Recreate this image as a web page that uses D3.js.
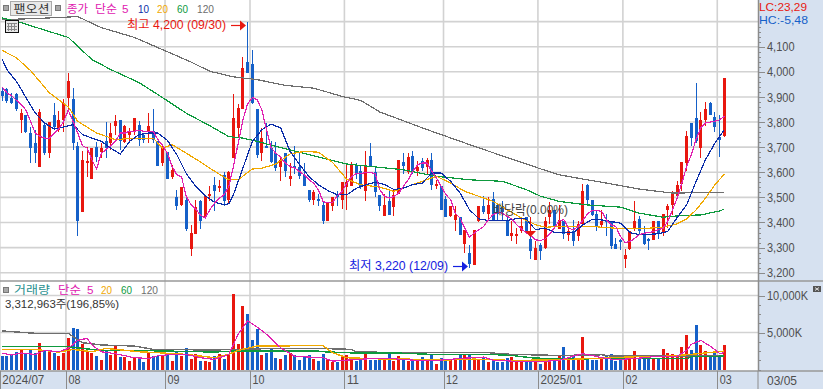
<!doctype html>
<html lang="ko">
<head>
<meta charset="UTF-8">
<title>팬오션</title>
<style>
  html, body { margin: 0; padding: 0; background: #fff; }
  svg { display: block; }
  text { font-family: "Liberation Sans", "Noto Sans CJK KR", sans-serif; }
  .grid line { stroke: #d2d2d2; stroke-width: 1.6px; }
  .axis path { display: none; }
  .axis line { stroke: #8c8c8c; shape-rendering: crispEdges; }
  .axis text { font-size: 13px; fill: #4e4e4e; }
  .ma { fill: none; shape-rendering: crispEdges; }
  .wick, .body, .vol { shape-rendering: crispEdges; }
</style>
</head>
<body>
<script src="https://d3js.org/d3.v7.min.js"></script>
<script>
var opens = [3925,3930,3895,3910,3810,3830,3755,3715,3620,3790,3675,3830,3770,3810,3895,3890,3705,3440,3635,3575,3700,3680,3725,3715,3785,3810,3720,3750,3765,3790,3750,3760,3765,3725,3635,3680,3580,3500,3470,3490,3295,3355,3485,3420,3505,3550,3540,3590,3490,3655,3775,3850,4040,4030,3850,3675,3705,3695,3675,3620,3675,3575,3625,3620,3590,3530,3490,3495,3470,3405,3465,3510,3490,3540,3545,3630,3605,3525,3665,3600,3510,3425,3485,3460,3515,3640,3600,3665,3605,3645,3620,3650,3550,3545,3495,3425,3410,3420,3315,3280,3230,3405,3465,3435,3495,3470,3465,3405,3345,3345,3365,3420,3335,3250,3310,3300,3420,3450,3375,3405,3350,3365,3345,3395,3550,3490,3435,3390,3410,3405,3315,3330,3255,3295,3375,3415,3355,3335,3330,3405,3360,3450,3470,3505,3555,3635,3795,3815,3695,3810,3875,3820,3740,3745];
var closes = [3905,3885,3875,3850,3835,3760,3695,3675,3840,3675,3800,3780,3810,3875,3965,3715,3405,3650,3645,3695,3660,3695,3695,3755,3805,3725,3785,3760,3815,3730,3730,3785,3730,3625,3705,3575,3610,3465,3540,3375,3360,3460,3405,3505,3515,3525,3545,3485,3600,3815,3855,4015,3995,3875,3670,3735,3695,3640,3615,3650,3605,3585,3615,3585,3545,3490,3520,3485,3405,3480,3500,3500,3560,3560,3630,3595,3545,3630,3620,3520,3465,3470,3430,3510,3650,3625,3660,3605,3620,3615,3650,3550,3555,3450,3420,3465,3430,3350,3370,3235,3370,3465,3440,3470,3410,3435,3440,3345,3360,3355,3385,3365,3285,3300,3285,3405,3450,3385,3410,3355,3365,3325,3395,3525,3490,3430,3385,3405,3400,3305,3295,3325,3270,3365,3405,3365,3315,3325,3405,3355,3435,3465,3515,3550,3640,3745,3735,3725,3810,3850,3830,3780,3730,3975];
var highs = [3940,3935,3915,3915,3850,3830,3780,3770,3850,3795,3800,3875,3845,3890,3995,3935,3720,3685,3700,3695,3720,3715,3800,3795,3830,3810,3790,3775,3815,3805,3755,3835,3850,3725,3705,3680,3630,3530,3540,3505,3390,3490,3490,3505,3545,3580,3570,3600,3605,3910,3870,4060,4200,4085,3850,3775,3795,3725,3720,3665,3675,3635,3705,3675,3635,3530,3530,3515,3485,3480,3500,3525,3560,3635,3640,3635,3625,3685,3715,3625,3510,3515,3535,3535,3650,3675,3675,3685,3645,3655,3655,3675,3570,3545,3505,3465,3465,3420,3370,3310,3370,3465,3505,3500,3520,3470,3485,3425,3405,3380,3420,3420,3345,3325,3320,3420,3480,3450,3470,3405,3385,3410,3405,3555,3555,3490,3450,3450,3435,3405,3340,3335,3295,3365,3485,3425,3385,3340,3405,3405,3435,3475,3525,3565,3640,3765,3795,3955,3840,3880,3880,3840,3830,3975];
var lows = [3885,3875,3870,3845,3755,3755,3635,3635,3620,3670,3655,3770,3760,3760,3850,3690,3345,3440,3580,3575,3640,3655,3655,3690,3750,3690,3715,3720,3750,3705,3715,3715,3715,3625,3625,3575,3575,3450,3465,3365,3265,3355,3375,3415,3485,3445,3520,3465,3475,3655,3735,3850,3995,3870,3655,3645,3695,3635,3605,3565,3580,3545,3595,3575,3545,3480,3470,3465,3395,3405,3445,3465,3455,3450,3545,3575,3535,3485,3620,3500,3445,3425,3430,3425,3515,3595,3595,3595,3585,3605,3595,3530,3535,3450,3420,3420,3365,3350,3280,3220,3230,3400,3435,3410,3410,3410,3410,3345,3325,3315,3360,3360,3255,3250,3250,3295,3395,3375,3375,3335,3325,3305,3325,3395,3465,3425,3365,3380,3345,3295,3295,3290,3220,3290,3365,3350,3310,3290,3330,3335,3345,3380,3430,3505,3525,3605,3705,3715,3655,3785,3830,3760,3660,3740];
var volumes = [1770,1770,1900,2310,2630,2130,2810,2220,3530,2580,2580,2170,1810,2220,4210,5570,5440,3440,2450,2220,1770,1220,2490,1950,3170,1630,1630,1130,1490,1590,950,2170,1770,1770,1900,2130,1090,2400,1810,2850,1360,2040,1090,1090,950,1770,2040,1400,2040,10190,3400,8570,7480,3960,5440,1900,2270,2940,1590,1360,1900,2170,1900,1220,1720,1900,1360,1090,2040,1270,950,950,1720,1900,1270,1090,1220,2080,1310,1310,1590,1490,2080,1090,1770,1490,1090,1360,1220,1630,1220,1900,680,1490,1220,1220,1220,1900,1900,1900,1630,1220,1630,950,1360,950,950,1490,1630,1180,1220,1220,1220,950,810,1220,1220,1490,1770,2990,1220,1770,1220,4350,1360,1220,1220,1360,1900,2040,1090,1360,1360,1360,2450,1490,1490,1490,1490,1490,2720,2170,2040,1900,2990,4620,2580,5980,3260,2450,1770,2310,1770,3313];

// moving averages
var ma5 = [3940,3916,3905,3887,3869,3849,3803,3756,3743,3736,3736,3756,3772,3803,3847,3803,3756,3706,3696,3650,3613,3676,3690,3706,3723,3756,3756,3763,3763,3767,3763,3762,3763,3730,3706,3676,3623,3590,3581,3504,3471,3453,3430,3418,3451,3477,3497,3510,3543,3623,3716,3809,3873,3898,3889,3849,3769,3696,3676,3660,3636,3623,3616,3603,3590,3570,3556,3530,3483,3479,3479,3507,3523,3556,3583,3594,3594,3599,3599,3594,3531,3504,3497,3504,3517,3544,3570,3604,3630,3637,3637,3604,3577,3544,3511,3491,3437,3418,3378,3342,3358,3371,3384,3411,3431,3440,3437,3424,3414,3391,3374,3360,3347,3331,3328,3334,3354,3378,3407,3411,3377,3371,3384,3408,3434,3448,3448,3444,3411,3391,3384,3344,3320,3324,3337,3351,3357,3360,3364,3371,3377,3404,3450,3497,3557,3623,3670,3730,3776,3796,3800,3803,3809,3823];
var ma10Days = [0,1,3,5,7,9,11,13,15,17,19,21,23,25,27,29,31,33,35,37,39,41,43,45,47,48,49,51,53,55,57,59,61,63,65,67,69,71,73,75,77,79,81,83,85,87,89,91,93,95,97,99,101,103,105,107,109,111,113,115,117,119,121,123,125,127,129,131,133,135,137,139,141,143,145,147,149,151,153];
var ma10 = [4050,4009,3962,3899,3836,3796,3772,3780,3790,3750,3736,3723,3696,3673,3723,3750,3756,3756,3727,3670,3595,3544,3507,3480,3471,3475,3511,3617,3723,3769,3792,3776,3683,3630,3583,3550,3527,3510,3510,3536,3550,3560,3551,3531,3537,3551,3557,3597,3597,3564,3517,3451,3414,3408,3408,3408,3416,3414,3371,3378,3360,3360,3360,3390,3413,3410,3404,3397,3360,3351,3353,3355,3364,3420,3470,3563,3650,3716,3770];
var ma20Days = [0,3,6,10,14,16,20,24,28,32,34,36,39,42,45,48,50,53,55,58,61,64,67,70,73,76,80,83,86,89,92,95,98,101,104,107,110,113,115,118,120,125,130,135,140,143,145,147,149,151,153];
var ma20 = [4085,4056,4005,3916,3860,3803,3756,3730,3736,3736,3696,3710,3676,3641,3604,3570,3570,3613,3616,3633,3673,3683,3680,3639,3572,3550,3541,3524,3544,3564,3584,3557,3524,3504,3484,3451,3418,3391,3381,3384,3384,3384,3377,3375,3381,3395,3414,3450,3497,3550,3593];
var ma60Days = [0,4,9,14,19,23,29,34,39,44,48,51,54,58,63,68,73,77,85,92,99,106,111,114,118,124,131,135,140,144,148,152,153];
var ma60 = [4215,4196,4166,4137,4049,4009,3957,3897,3835,3785,3742,3736,3723,3703,3680,3656,3633,3625,3610,3584,3570,3564,3531,3505,3484,3470,3461,3437,3421,3428,3430,3446,3453];
var ma120Days = [0,7,16,21,28,35,40,44,49,54,60,66,72,76,80,90,101,114,118,123,128,135,142,153];
var ma120 = [4208,4212,4220,4176,4137,4080,4039,4002,3980,3969,3946,3935,3902,3886,3840,3770,3697,3614,3590,3573,3557,3533,3517,3520];

var volMa5Days = [0,2,4,7,9,12,14,16,18,19,21,24,28,31,33,36,39,42,45,48,50,52,54,56,59,62,68,70,75,79,82,87,92,97,102,104,108,113,118,121,123,125,127,130,136,139,143,145,146,148,150,152,153];
var volMa5 = [2220,1950,2220,2040,2580,2400,2850,3940,4210,3310,2400,2130,1590,1490,1860,2040,2040,1590,1360,2040,4760,6570,5750,4760,2940,1770,1590,1130,1360,1490,1490,1270,1220,1490,1680,1270,1130,1040,1220,1810,2130,1900,1590,1310,1590,1810,1810,2580,3400,3940,3170,2170,2260];
var volMa20Days = [0,7,9,12,15,19,22,24,29,33,39,45,48,50,54,59,62,68,70,73,79,86,93,100,108,118,125,134,139,146,153];
var volMa20 = [2690,2690,2580,2350,2720,2400,2850,2720,2400,2270,2040,1590,2040,2580,3170,3170,3220,3220,2270,1590,1450,1400,1270,1400,1220,1310,1490,1720,1720,2040,2490];
var volMa60Days = [0,14,17,21,28,35,45,49,59,67,68,75,84,91,103,108,112,118,125,145,146,153];
var volMa60 = [3080,3080,2850,2580,2580,2490,2360,2490,2490,2490,2400,2220,2220,2040,2040,1900,1590,1400,1450,1450,1720,1810];
var volMa120Days = [0,3,7,14,17,21,28,32,45,49,59,67,74,75,84,103,108,118,127,129,153];
var volMa120 = [5210,5070,4890,4890,3620,3310,3170,2720,2630,2720,2850,2850,2720,2400,2270,2270,2040,1900,1990,1810,1810];

var monthDays = [0,14,35,53,73,94,114,132,152];
var monthLabels = ["2024/07","08","09","10","11","12","2025/01","02","03"];
var priceTicks = [3200,3300,3400,3500,3600,3700,3800,3900,4000,4100];
var priceGrid = [3200,3300,3400,3500,3600,3700,3800,3900,4000,4100,4200];
var volTicks = [5000,10000];

var RED = "#e8170f", BLUE = "#1560c8", MAGENTA = "#e020b0", NAVY = "#0b2da8",
    AMBER = "#f0a800", GREEN = "#0e9a3e", GRAY = "#6e6e6e", PANEL = "#d6e1f0";

var width = 823, height = 389, plotRight = 758, priceBottom = 281, volBottom = 371;

var svg = d3.select("body").append("svg").attr("width", width).attr("height", height);

var xEdge = d3.scaleLinear().domain([0, 154]).range([-0.16, 726.72]);
var yPrice = d3.scaleLinear().domain([3200, 4200]).range([272.7, 21.6]);
var yVol = d3.scaleLinear().domain([0, 10000]).range([369.5, 295.5]);
function xMid(i) { return xEdge(i + 0.5); }

// right panel and bottom band
svg.append("rect").attr("x", plotRight).attr("y", 0).attr("width", width - plotRight).attr("height", height).attr("fill", PANEL);
svg.append("rect").attr("x", 0).attr("y", volBottom).attr("width", width).attr("height", height - volBottom).attr("fill", PANEL);

// grid
var grid = svg.append("g").attr("class", "grid");
grid.selectAll(".v").data(monthDays).enter().append("line").attr("class", "v")
    .attr("x1", function(d) { return xEdge(d); }).attr("x2", function(d) { return xEdge(d); })
    .attr("y1", 0).attr("y2", volBottom);
grid.selectAll(".hp").data(priceGrid).enter().append("line").attr("class", "hp")
    .attr("x1", 0).attr("x2", plotRight)
    .attr("y1", function(d) { return yPrice(d); }).attr("y2", function(d) { return yPrice(d); });
grid.selectAll(".hv").data(volTicks).enter().append("line").attr("class", "hv")
    .attr("x1", 0).attr("x2", plotRight)
    .attr("y1", function(d) { return yVol(d); }).attr("y2", function(d) { return yVol(d); });

var days = d3.range(opens.length);
function upColor(i) { return closes[i] >= opens[i] ? RED : BLUE; }

// candles
var candles = svg.append("g");
candles.selectAll(".wick").data(days).enter().append("rect").attr("class", "wick")
    .attr("x", function(i) { return Math.round(xMid(i) - 0.5); })
    .attr("width", 1)
    .attr("y", function(i) { return yPrice(highs[i]); })
    .attr("height", function(i) { return yPrice(lows[i]) - yPrice(highs[i]); })
    .attr("fill", upColor);
candles.selectAll(".body").data(days).enter().append("rect").attr("class", "body")
    .attr("x", function(i) { return Math.round(xMid(i) - 1.5); })
    .attr("width", 3)
    .attr("y", function(i) { return yPrice(Math.max(opens[i], closes[i])); })
    .attr("height", function(i) { return Math.max(2, Math.abs(yPrice(opens[i]) - yPrice(closes[i]))); })
    .attr("fill", upColor);

// volume bars
svg.append("g").selectAll(".vol").data(days).enter().append("rect").attr("class", "vol")
    .attr("x", function(i) { return Math.round(xMid(i) - 1.5); })
    .attr("width", 3)
    .attr("y", function(i) { return yVol(volumes[i]); })
    .attr("height", function(i) { return yVol(0) - yVol(volumes[i]); })
    .attr("fill", upColor);

function drawMa(dayList, values, scale, color, w) {
    var line = d3.line()
        .x(function(d) { return xMid(d[0]); })
        .y(function(d) { return scale(d[1]); });
    svg.append("path").attr("class", "ma")
        .datum(dayList.map(function(d, k) { return [d, values[k]]; }))
        .attr("d", line).attr("stroke", color).attr("stroke-width", w || 1.2);
}

drawMa(ma120Days, ma120, yPrice, GRAY);
drawMa(ma60Days, ma60, yPrice, GREEN);
drawMa(ma20Days, ma20, yPrice, AMBER);
drawMa(ma10Days, ma10, yPrice, NAVY);
drawMa(days, ma5, yPrice, MAGENTA);

drawMa(volMa120Days, volMa120, yVol, GRAY, 1.4);
drawMa(volMa60Days, volMa60, yVol, GREEN, 1.4);
drawMa(volMa20Days, volMa20, yVol, AMBER, 1.4);
drawMa(volMa5Days, volMa5, yVol, MAGENTA);

// panel borders
function hRule(y) {
    svg.append("line").attr("x1", 0).attr("x2", width).attr("y1", y).attr("y2", y)
        .attr("stroke", "#999").attr("stroke-width", 1.5);
}
hRule(priceBottom);
hRule(volBottom);

// axes
var priceAxis = svg.append("g").attr("class", "axis").attr("transform", "translate(" + plotRight + ",0)")
    .call(d3.axisRight(yPrice).tickValues(priceTicks).tickFormat(d3.format(",")).tickSize(7).tickPadding(2));
priceAxis.selectAll("text").attr("textLength", 27.5).attr("lengthAdjust", "spacingAndGlyphs");

svg.append("g").attr("class", "axis").attr("transform", "translate(" + plotRight + ",0)")
    .call(d3.axisRight(yPrice).tickValues(d3.range(3200, 4200, 20)).tickFormat("").tickSize(3));

var volAxis = svg.append("g").attr("class", "axis").attr("transform", "translate(" + plotRight + ",0)")
    .call(d3.axisRight(yVol).tickValues(volTicks).tickFormat(function(d) { return d3.format(",")(d) + "K"; }).tickSize(7).tickPadding(2));
volAxis.selectAll("text").attr("textLength", function(d) { return d === 10000 ? 41 : 35; }).attr("lengthAdjust", "spacingAndGlyphs");

svg.append("g").attr("class", "axis").attr("transform", "translate(" + plotRight + ",0)")
    .call(d3.axisRight(yVol).tickValues(d3.range(0, 11250, 1250)).tickFormat("").tickSize(3));

var dateAxis = svg.append("g").attr("class", "axis").attr("transform", "translate(0," + volBottom + ")")
    .call(d3.axisBottom(xEdge).tickValues(monthDays).tickSize(18)
        .tickFormat(function(d) { return monthLabels[monthDays.indexOf(d)]; }));
dateAxis.selectAll("text")
    .attr("text-anchor", "start").attr("x", 2).attr("y", 3).attr("dy", "0.8em")
    .attr("textLength", function(d, k) { return monthLabels[k].length > 2 ? 42 : 12; })
    .attr("lengthAdjust", "spacingAndGlyphs");
svg.append("line").attr("x1", plotRight).attr("x2", plotRight).attr("y1", volBottom).attr("y2", height).attr("stroke", "#8c8c8c");
svg.append("line").attr("x1", plotRight + 0.5).attr("x2", plotRight + 0.5).attr("y1", 0).attr("y2", volBottom).attr("stroke", "#8c8c8c").attr("stroke-width", 1.5);

// texts
function label(str, x, y, color, w, size) {
    return svg.append("text").attr("x", x).attr("y", y).attr("fill", color)
        .attr("font-size", size || 11.5).attr("textLength", w).attr("lengthAdjust", "spacingAndGlyphs").text(str);
}
function chip(x, y) {
    svg.append("rect").attr("x", x + 0.5).attr("y", y + 0.5).attr("width", 5).attr("height", 5)
        .attr("fill", "#a8a8a8").attr("stroke", "#777");
}

chip(3, 5);
svg.append("rect").attr("x", 10.5).attr("y", 1.5).attr("width", 41).attr("height", 14)
    .attr("fill", "#e9e9e9").attr("stroke", "#aaa");
label("팬오션", 13.5, 12.8, "#333", 36);
chip(55, 5);
label("종가", 67, 13, MAGENTA, 21);
label("단순", 95, 13, MAGENTA, 22);
label("5", 122, 13, MAGENTA, 6.5);
label("10", 138, 13, NAVY, 11);
label("20", 157, 13, AMBER, 11);
label("60", 177, 13, GREEN, 11);
label("120", 197, 13, GRAY, 17);

// table icon
svg.append("rect").attr("x", 5.5).attr("y", 20.5).attr("width", 13).attr("height", 12)
    .attr("fill", "#e6e6e6").attr("stroke", "#111");
var tableIcon = d3.path();
[8, 11, 14].forEach(function(x) { tableIcon.moveTo(x + 0.5, 23); tableIcon.lineTo(x + 0.5, 31); });
[23, 26, 29].forEach(function(y) { tableIcon.moveTo(7, y + 0.5); tableIcon.lineTo(17, y + 0.5); });
svg.append("path").attr("d", tableIcon.toString()).attr("stroke", "#888").attr("fill", "none");

label("최고 4,200 (09/30)", 127, 29, RED, 99, 12);
var arrowUp = d3.path();
arrowUp.moveTo(231, 25.5); arrowUp.lineTo(241, 25.5);
svg.append("path").attr("d", arrowUp.toString()).attr("stroke", RED).attr("stroke-width", 1.2);
svg.append("path").attr("d", "M240,20.5L246,25.5L240,30.5Z").attr("fill", RED);

label("최저 3,220 (12/09)", 349, 270, "#1420e0", 99, 12);
svg.append("line").attr("x1", 453).attr("x2", 463).attr("y1", 266.5).attr("y2", 266.5).attr("stroke", "#1420e0").attr("stroke-width", 1.2);
svg.append("path").attr("d", "M462,261.5L468,266.5L462,271.5Z").attr("fill", "#1420e0");

label("배당락(0.00%)", 493, 214, "#444", 75, 13);
svg.append("line").attr("x1", 530.5).attr("x2", 530.5).attr("y1", 217).attr("y2", 232).attr("stroke", RED);
svg.append("path").attr("d", "M525,231L536,231L530.5,237Z").attr("fill", RED);

label("LC:23,29", 759, 11, RED, 48);
label("HC:-5,48", 759, 23.8, BLUE, 49);

chip(3, 287);
label("거래량", 14, 294, "#2a9090", 36);
label("단순", 58, 294, MAGENTA, 23);
label("5", 87, 294, MAGENTA, 6.5);
label("20", 101, 294, AMBER, 11);
label("60", 121, 294, GREEN, 11);
label("120", 141, 294, GRAY, 17);
label("3,312,963주(196,85%)", 5, 307.5, "#333", 114);

label("03/05", 767, 385, "#4e4e4e", 30, 13);

// collapse button
svg.append("rect").attr("x", 813).attr("y", 286).attr("width", 8).attr("height", 6).attr("fill", "#555");
svg.append("path").attr("d", "M815,287.5L819,290.5M819,287.5L815,290.5").attr("stroke", "#fff").attr("stroke-width", 0.8);
</script>
</body>
</html>
